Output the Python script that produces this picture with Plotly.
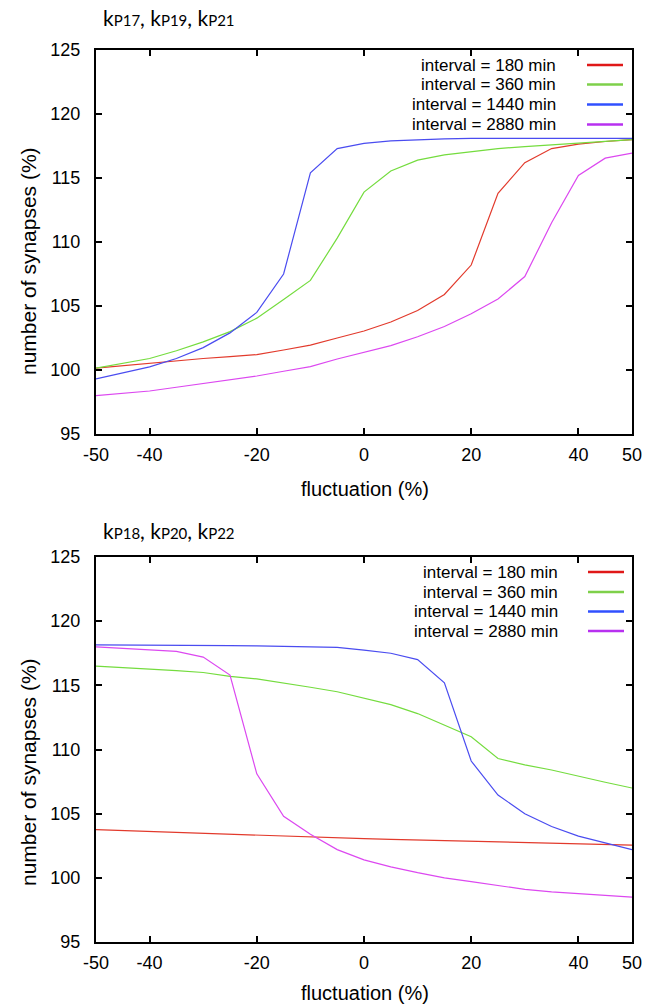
import plotly.graph_objects as go

# ---------------- data ----------------
fluct = [-50, -45, -40, -35, -30, -25, -20, -15, -10, -5, 0, 5, 10, 15, 20, 25, 30, 35, 40, 45, 50]

series_names = ["interval = 180 min", "interval = 360 min", "interval = 1440 min", "interval = 2880 min"]

# top panel: kP17, kP19, kP21
top_180 = [100.15, 100.35, 100.5, 100.7, 100.9, 101.05, 101.2, 101.56, 101.95, 102.5, 103.05, 103.75, 104.65, 105.9, 108.2, 113.8, 116.2, 117.3, 117.65, 117.85, 118.0]
top_360 = [100.15, 100.5, 100.9, 101.5, 102.2, 103.0, 104.05, 105.5, 107.0, 110.3, 113.9, 115.55, 116.4, 116.8, 117.05, 117.3, 117.45, 117.6, 117.75, 117.9, 118.0]
top_1440 = [99.3, 99.8, 100.25, 100.9, 101.75, 102.9, 104.5, 107.5, 115.4, 117.3, 117.7, 117.9, 118.0, 118.05, 118.1, 118.1, 118.1, 118.1, 118.1, 118.1, 118.1]
top_2880 = [98.0, 98.2, 98.36, 98.65, 98.95, 99.25, 99.53, 99.9, 100.26, 100.86, 101.4, 101.9, 102.6, 103.4, 104.4, 105.55, 107.3, 111.5, 115.2, 116.55, 116.95]

# bottom panel: kP18, kP20, kP22
bot_180 = [103.75, 103.68, 103.6, 103.52, 103.45, 103.38, 103.3, 103.22, 103.15, 103.1, 103.05, 103.0, 102.95, 102.9, 102.85, 102.8, 102.75, 102.7, 102.65, 102.6, 102.55]
bot_360 = [116.5, 116.4, 116.3, 116.15, 116.0, 115.7, 115.5, 115.2, 114.85, 114.5, 114.0, 113.5, 112.8, 111.9, 111.0, 109.3, 108.8, 108.4, 107.9, 107.45, 107.0]
bot_1440 = [118.15, 118.15, 118.15, 118.12, 118.1, 118.1, 118.08, 118.05, 118.0, 117.95, 117.75, 117.5, 117.0, 115.2, 109.1, 106.45, 105.0, 104.0, 103.25, 102.7, 102.2]
bot_2880 = [118.0, 117.9, 117.8, 117.65, 117.2, 115.8, 108.1, 104.8, 103.4, 102.2, 101.4, 100.85, 100.4, 100.0, 99.7, 99.4, 99.1, 98.9, 98.75, 98.6, 98.5]

x_ticks = [-50, -40, -20, 0, 20, 40, 50]
x_tick_labels = ["-50", "-40", "-20", "0", "20", "40", "50"]
y_ticks = [95, 100, 105, 110, 115, 120, 125]
y_tick_labels = ["95", "100", "105", "110", "115", "120", "125"]

SUB = "<span style='font-size:15px'>{}</span>"
panel_titles = ["k" + SUB.format("P17") + ", k" + SUB.format("P19") + ", k" + SUB.format("P21"),
                "k" + SUB.format("P18") + ", k" + SUB.format("P20") + ", k" + SUB.format("P22")]
x_title = "fluctuation (%)"
y_title = "number of synapses (%)"

# ---------------- style ----------------
line_colors = ["#e23a2c", "#74dc3e", "#4a4cf0", "#dc48f0"]
legend_colors = ["#e01818", "#7ed04a", "#3050ff", "#b830f0"]
FONT = "Liberation Sans, Arial, Helvetica, sans-serif"

W, H = 655, 1007
ML, MR, MT, MB = 96, 23, 50, 65
PW = W - ML - MR
PH = H - MT - MB


def px(xp):
    return (xp - ML) / PW


def py(yp):
    return (H - MB - yp) / PH


fig = go.Figure()

top_data = [top_180, top_360, top_1440, top_2880]
bot_data = [bot_180, bot_360, bot_1440, bot_2880]

for i, (name, ys) in enumerate(zip(series_names, top_data)):
    fig.add_trace(go.Scatter(x=fluct, y=ys, mode="lines", name=name, showlegend=False,
                             line=dict(color=line_colors[i], width=1.2), xaxis="x", yaxis="y"))
for i, (name, ys) in enumerate(zip(series_names, bot_data)):
    fig.add_trace(go.Scatter(x=fluct, y=ys, mode="lines", name=name, showlegend=False,
                             line=dict(color=line_colors[i], width=1.2), xaxis="x2", yaxis="y2"))

top_dom = [py(434), 1.0]
bot_dom = [0.0, py(557)]

axis_common = dict(
    showline=True, linecolor="black", linewidth=2, mirror="allticks",
    ticks="inside", ticklen=6, tickwidth=1.5, tickcolor="black",
    showgrid=False, zeroline=False,
    tickfont=dict(family=FONT, size=18, color="black"),
)
xcommon = dict(domain=[0, 1], range=[-50, 50], tickvals=x_ticks, ticktext=x_tick_labels,
               ticklabelstandoff=3, **axis_common)
ycommon = dict(range=[95, 125], tickvals=y_ticks, ticktext=y_tick_labels,
               ticklabelstandoff=10, **axis_common)

fig.update_layout(
    width=W, height=H,
    margin=dict(l=ML, r=MR, t=MT, b=MB),
    paper_bgcolor="white", plot_bgcolor="white",
    xaxis=dict(anchor="y", **xcommon),
    yaxis=dict(domain=top_dom, anchor="x", **ycommon),
    xaxis2=dict(anchor="y2", **xcommon),
    yaxis2=dict(domain=bot_dom, anchor="x2", **ycommon),
    showlegend=False,
)

annotations = []
shapes = []

# panel titles
for title, yc in zip(panel_titles, [18, 530]):
    annotations.append(dict(text=title, x=px(101), y=py(yc), xref="paper", yref="paper",
                            xanchor="left", yanchor="middle", showarrow=False,
                            font=dict(family="Lato, Open Sans, sans-serif", size=21, color="black")))
# axis titles
for yc in [261, 772]:
    annotations.append(dict(text=y_title, x=px(28), y=py(yc), xref="paper", yref="paper",
                            xanchor="center", yanchor="middle", textangle=-90, showarrow=False,
                            font=dict(family=FONT, size=21, color="black")))
for yc in [489, 993]:
    annotations.append(dict(text=x_title, x=px(365), y=py(yc), xref="paper", yref="paper",
                            xanchor="center", yanchor="middle", showarrow=False,
                            font=dict(family=FONT, size=20, color="black")))

# legends (gnuplot style: text then line sample)
for rows, xr, x0, x1 in [([65, 84.5, 104.5, 124.5], 558, 587, 623), ([572, 592, 611.5, 631], 560, 588, 624)]:
    for i, yc in enumerate(rows):
        annotations.append(dict(text=series_names[i], x=px(xr), y=py(yc), xref="paper", yref="paper",
                                xanchor="right", yanchor="middle", showarrow=False,
                                font=dict(family=FONT, size=17, color="black")))
        shapes.append(dict(type="line", xref="paper", yref="paper", x0=px(x0), x1=px(x1),
                           y0=py(yc), y1=py(yc), line=dict(color=legend_colors[i], width=2.5)))

fig.update_layout(annotations=annotations, shapes=shapes)

fig.write_html("out.html")
